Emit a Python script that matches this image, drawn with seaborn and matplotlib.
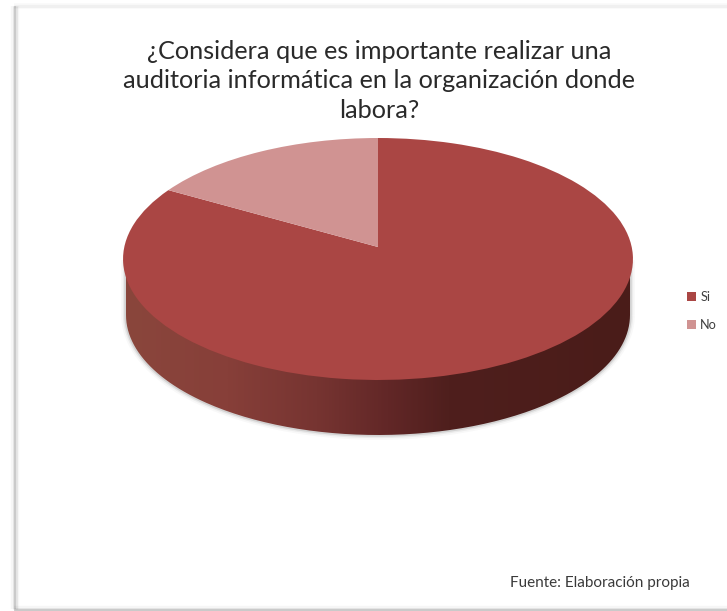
import numpy as np
import matplotlib
matplotlib.use("Agg")
import matplotlib.pyplot as plt
from matplotlib.path import Path
from matplotlib.patches import PathPatch
from matplotlib.transforms import Transform
from matplotlib.colors import LinearSegmentedColormap
import seaborn as sns

categories = ["Si", "No"]
values = [83.3, 16.7]
title = "¿Considera que es importante realizar una\nauditoria informática en la organización donde\nlabora?"
source = "Fuente: Elaboración propia"

sns.set_theme(style="white")
plt.rcParams["font.family"] = ["Lato", "DejaVu Sans"]
palette = sns.color_palette(["#AA4644", "#D09392"])

W, H = 727, 611
fig = plt.figure(figsize=(W / 100, H / 100), dpi=100, facecolor="white")
ax = fig.add_axes([0, 0, 1, 1])

# Geometry of the tilted pie, in pixels of the figure
CX, APEX_Y = 378, 247
A, B, K = 119.8, 253.7, 0.0992
DEPTH = 56
ELL_Y, RX, RY = 259, 252, 120


class Perspective(Transform):
    input_dims = output_dims = 2
    is_separable = False
    has_inverse = False

    def transform_non_affine(self, xy):
        xy = np.asarray(xy, float)
        w = 1 + K * xy[:, 1]
        return np.column_stack([CX + B * xy[:, 0] / w, APEX_Y - A * xy[:, 1] / w])


wedges, _ = ax.pie(values, colors=palette, startangle=90, counterclock=False,
                   radius=1, frame=True, wedgeprops=dict(linewidth=0))
for w in wedges:
    w.set_transform(Perspective() + ax.transData)
    w.set_zorder(5)
ax.set_aspect("auto")
ax.set_xlim(0, W)
ax.set_ylim(H, 0)
ax.set_xticks([])
ax.set_yticks([])
for s in ax.spines.values():
    s.set_visible(False)

# Soft frame of the chart panel: left and bottom darker, top very light
for lw, a in [(6, .05), (3.5, .10), (1.5, .18)]:
    ax.plot([14.5, 14.5], [6, 609], color="#505050", lw=lw, alpha=a, zorder=1, solid_capstyle="butt")
    ax.plot([14, W], [609.5, 609.5], color="#505050", lw=lw, alpha=a, zorder=1, solid_capstyle="butt")
for lw, a in [(4, .04), (2, .05)]:
    ax.plot([14, W], [5.5, 5.5], color="#606060", lw=lw, alpha=a, zorder=1, solid_capstyle="butt")

# Side wall of the pie
t = np.linspace(0, np.pi, 200)
sx = CX + RX * np.cos(t)
sy = ELL_Y + DEPTH + RY * np.sin(t)
side = Path(np.column_stack([np.r_[sx, CX - RX, CX + RX, sx[0]],
                             np.r_[sy, ELL_Y + 6, ELL_Y + 6, sy[0]]]))
for lw, a in [(7, .04), (4.5, .08), (2.5, .16)]:
    ax.add_patch(PathPatch(side, fc="none", ec="#555555", lw=lw, alpha=a, zorder=2))
cmap = LinearSegmentedColormap.from_list("side", [(0, "#8A463C"), (.2, "#873F39"),
                                                  (.38, "#763431"), (.52, "#622727"),
                                                  (.64, "#4F1F1D"), (1, "#4A1C19")])
grad = np.linspace(0, 1, 512)[None, :]
im = ax.imshow(grad, cmap=cmap, extent=(CX - RX, CX + RX, ELL_Y + DEPTH + RY, ELL_Y),
               aspect="auto", zorder=3, interpolation="bilinear")
im.set_clip_path(PathPatch(side, transform=ax.transData))
ax.set_xlim(0, W)
ax.set_ylim(H, 0)

fig.text(379 / W, 1 - 81 / H, title, ha="center", va="center", fontsize=18.2,
         color="#2A2A2A", linespacing=1.36)
ax.legend(wedges, categories, loc="center left", bbox_to_anchor=(687 / W, 1 - 311 / H),
          frameon=False, fontsize=9.2, handlelength=0.7, handleheight=0.7, handletextpad=0.34,
          labelspacing=1.25, borderpad=0, borderaxespad=0, labelcolor="#404040")
fig.text(690 / W, 1 - 583 / H, source, ha="right", va="center", fontsize=11, color="#3A3A3A")
fig.savefig("out.png", dpi=100)
